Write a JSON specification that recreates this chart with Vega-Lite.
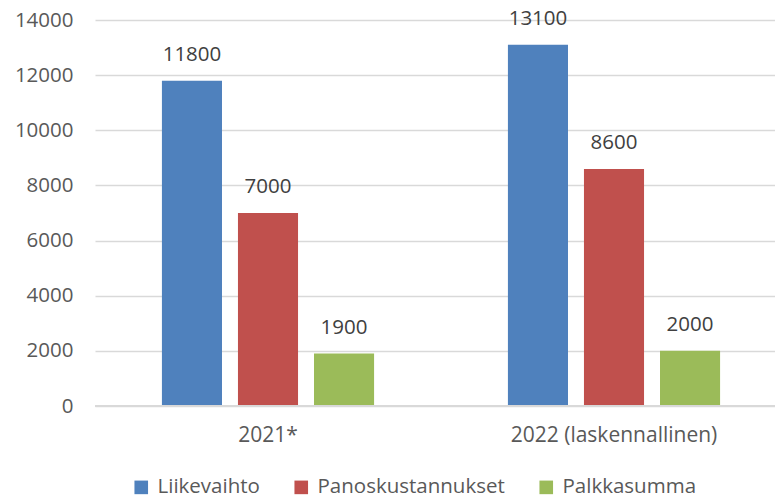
{
  "$schema": "https://vega.github.io/schema/vega-lite/v6.json",
  "width": 692,
  "height": 386,
  "autosize": {"type": "none"},
  "padding": {"left": 95, "top": 20, "right": 0, "bottom": 94},
  "background": "white",
  "config": {
    "view": {"stroke": null},
    "font": "Open Sans",
    "text": {"font": "Open Sans"}
  },
  "data": {
    "values": [
      {"vuosi": "2021*", "sarja": "Liikevaihto", "arvo": 11800},
      {"vuosi": "2021*", "sarja": "Panoskustannukset", "arvo": 7000},
      {"vuosi": "2021*", "sarja": "Palkkasumma", "arvo": 1900},
      {"vuosi": "2022 (laskennallinen)", "sarja": "Liikevaihto", "arvo": 13100},
      {"vuosi": "2022 (laskennallinen)", "sarja": "Panoskustannukset", "arvo": 8600},
      {"vuosi": "2022 (laskennallinen)", "sarja": "Palkkasumma", "arvo": 2000}
    ]
  },
  "encoding": {
    "x": {
      "field": "vuosi", "type": "nominal", "sort": null,
      "scale": {"paddingInner": 0, "paddingOuter": 0},
      "axis": {"title": null, "labelAngle": 0, "labelFontSize": 21, "labelColor": "#595959",
               "ticks": false, "domain": false, "labelPadding": 18, "labelLimit": 0}
    },
    "xOffset": {
      "field": "sarja", "type": "nominal", "sort": ["Liikevaihto", "Panoskustannukset", "Palkkasumma"],
      "scale": {"paddingInner": 0.21, "paddingOuter": 0.88}
    },
    "y": {
      "field": "arvo", "type": "quantitative",
      "scale": {"domain": [0, 14000], "nice": false},
      "axis": {"title": null, "values": [0, 2000, 4000, 6000, 8000, 10000, 12000, 14000],
               "format": "d", "labelFontSize": 20.5, "labelColor": "#595959", "ticks": false,
               "domain": false, "labelPadding": 22, "gridColor": "#d9d9d9", "gridWidth": 1.5}
    }
  },
  "layer": [
    {
      "mark": {"type": "bar"},
      "encoding": {
        "color": {
          "field": "sarja", "type": "nominal",
          "sort": ["Liikevaihto", "Panoskustannukset", "Palkkasumma"],
          "scale": {"domain": ["Liikevaihto", "Panoskustannukset", "Palkkasumma"],
                    "range": ["#4f81bd", "#c0504d", "#9bbb59"]},
          "legend": {"title": null, "orient": "none", "direction": "horizontal",
                     "legendX": 36, "legendY": 457,
                     "symbolType": "square", "symbolSize": 185, "symbolStrokeWidth": 0,
                     "labelFontSize": 20.5, "labelColor": "#595959", "columnPadding": 31,
                     "labelOffset": 6, "labelLimit": 0}
        }
      }
    },
    {
      "mark": {"type": "text", "dy": -26, "fontSize": 20.5, "color": "#404040"},
      "encoding": {"text": {"field": "arvo", "type": "quantitative", "format": "d"}}
    },
    {
      "mark": {"type": "rule", "color": "#d9d9d9", "strokeWidth": 1.5},
      "encoding": {"y": {"datum": 0}, "x": null, "xOffset": null}
    }
  ]
}
